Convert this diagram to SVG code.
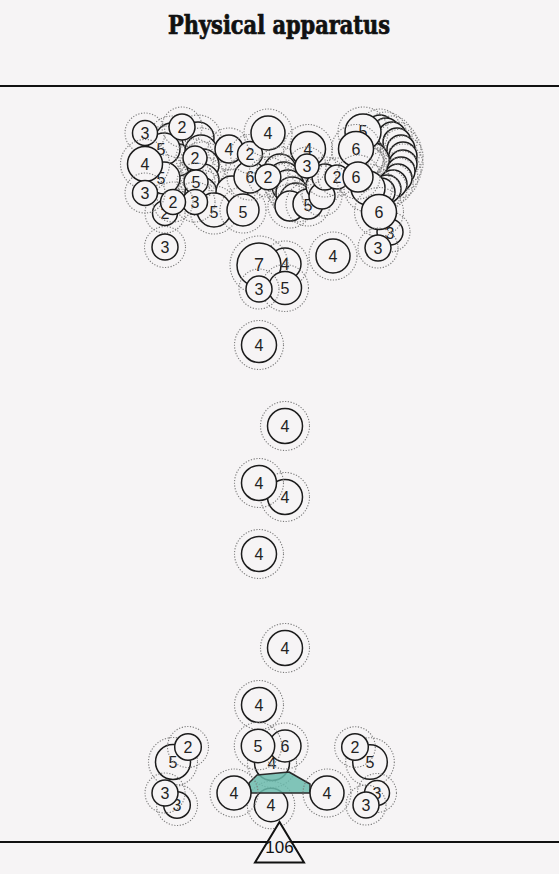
<svg xmlns="http://www.w3.org/2000/svg" width="559" height="874" viewBox="0 0 559 874">
<defs>
<style>
.ring{fill:none;stroke:#7a7a7a;stroke-width:1.1;stroke-dasharray:1.2 1.6}
.c{fill:#f6f4f5;stroke:#1c1c1c;stroke-width:1.5}
.t{font-family:"Liberation Sans",Arial,sans-serif;font-size:16px;fill:#222;text-anchor:middle;dominant-baseline:central}
.big{font-size:18px}
.rule{stroke:#111;stroke-width:2}
</style>
</defs>
<rect width="559" height="874" fill="#f6f4f5"/>
<text x="279" y="34" font-family="'DejaVu Serif Condensed','DejaVu Serif',serif" font-weight="bold" font-size="26" fill="#111" stroke="#111" stroke-width="0.7" text-anchor="middle" textLength="222" lengthAdjust="spacingAndGlyphs">Physical apparatus</text>
<line class="rule" x1="0" y1="86" x2="559" y2="86"/>
<line class="rule" x1="0" y1="842" x2="559" y2="842"/>

<g id="nodes">
<!-- top-left cluster -->
<g id="f1"><circle class="ring" cx="172" cy="140" r="24"/><circle class="c" cx="172" cy="140" r="17"/></g>
<g id="f2"><circle class="ring" cx="178" cy="160" r="23"/><circle class="c" cx="178" cy="160" r="16"/></g>
<g id="f3"><circle class="ring" cx="198" cy="138" r="23"/><circle class="c" cx="198" cy="138" r="16"/></g>
<g id="f4"><circle class="ring" cx="201" cy="151" r="23"/><circle class="c" cx="201" cy="151" r="16"/></g>
<g id="f5"><circle class="ring" cx="203" cy="165" r="23"/><circle class="c" cx="203" cy="165" r="16"/></g>
<g id="f6"><circle class="ring" cx="203" cy="180" r="23"/><circle class="c" cx="203" cy="180" r="16"/></g>
<g id="f7"><circle class="ring" cx="201" cy="193" r="23"/><circle class="c" cx="201" cy="193" r="16"/></g>
<g id="f8"><circle class="ring" cx="232" cy="192" r="23"/><circle class="c" cx="232" cy="192" r="16"/></g>
<g id="n1"><circle class="ring" cx="214" cy="210" r="24"/><circle class="c" cx="214" cy="210" r="17"/><text class="t" x="214" y="212">5</text></g>
<g id="n2"><circle class="ring" cx="243" cy="210" r="23"/><circle class="c" cx="243" cy="210" r="16"/><text class="t" x="243" y="212">5</text></g>
<g id="n3"><circle class="ring" cx="165" cy="213" r="20"/><circle class="c" cx="165" cy="213" r="12.5"/><text class="t" x="165" y="213">2</text></g>
<g id="n4"><circle class="ring" cx="164" cy="149" r="23"/><circle class="c" cx="164" cy="149" r="16"/><text class="t" x="161" y="149">5</text></g>
<g id="n5"><circle class="ring" cx="164" cy="178" r="23"/><circle class="c" cx="164" cy="178" r="16"/><text class="t" x="161" y="178">5</text></g>
<g id="n6"><circle class="ring" cx="195" cy="158" r="19"/><circle class="c" cx="195" cy="158" r="12"/><text class="t" x="195" y="158">2</text></g>
<g id="n7"><circle class="ring" cx="196" cy="182" r="19"/><circle class="c" cx="196" cy="182" r="12"/><text class="t" x="196" y="182">5</text></g>
<g id="n8"><circle class="ring" cx="195" cy="202" r="20"/><circle class="c" cx="195" cy="202" r="12.5"/><text class="t" x="195" y="202">3</text></g>
<g id="n9"><circle class="ring" cx="173" cy="202" r="20"/><circle class="c" cx="173" cy="202" r="12.5"/><text class="t" x="173" y="202">2</text></g>
<g id="n10"><circle class="ring" cx="145" cy="133" r="20"/><circle class="c" cx="145" cy="133" r="12.5"/><text class="t" x="145" y="133">3</text></g>
<g id="n11"><circle class="ring" cx="182" cy="127" r="20"/><circle class="c" cx="182" cy="127" r="13"/><text class="t" x="182" y="127">2</text></g>
<g id="n12"><circle class="ring" cx="145" cy="164" r="24.5"/><circle class="c" cx="145" cy="164" r="17.5"/><text class="t" x="145" y="164">4</text></g>
<g id="n13"><circle class="ring" cx="145" cy="193" r="20"/><circle class="c" cx="145" cy="193" r="12.5"/><text class="t" x="145" y="193">3</text></g>
<g id="n14"><circle class="ring" cx="229" cy="149" r="21"/><circle class="c" cx="229" cy="149" r="14"/><text class="t" x="229" y="149">4</text></g>
<g id="n15"><circle class="ring" cx="250" cy="177" r="23"/><circle class="c" cx="250" cy="177" r="16"/><text class="t" x="250" y="177">6</text></g>
<g id="n16"><circle class="ring" cx="250" cy="154" r="19.5"/><circle class="c" cx="250" cy="154" r="12.5"/><text class="t" x="250" y="154">2</text></g>
<g id="n17"><circle class="ring" cx="268" cy="133" r="24"/><circle class="c" cx="268" cy="133" r="17"/><text class="t" x="268" y="133">4</text></g>
<!-- middle fan -->
<g id="f9"><circle class="ring" cx="280" cy="170" r="23"/><circle class="c" cx="280" cy="170" r="16"/></g>
<g id="f10"><circle class="ring" cx="284" cy="178" r="23"/><circle class="c" cx="284" cy="178" r="16"/></g>
<g id="f11"><circle class="ring" cx="288" cy="186" r="23"/><circle class="c" cx="288" cy="186" r="16"/></g>
<g id="f12"><circle class="ring" cx="292" cy="193" r="23"/><circle class="c" cx="292" cy="193" r="16"/></g>
<g id="f13"><circle class="ring" cx="296" cy="199" r="23"/><circle class="c" cx="296" cy="199" r="16"/></g>
<g id="f14"><circle class="ring" cx="290" cy="206" r="22"/><circle class="c" cx="290" cy="206" r="15"/></g>
<g id="n18"><circle class="ring" cx="308" cy="204" r="22"/><circle class="c" cx="308" cy="204" r="15"/><text class="t" x="308" y="205">5</text></g>
<g id="n19"><circle class="ring" cx="268" cy="177" r="20"/><circle class="c" cx="268" cy="177" r="12.8"/><text class="t" x="268" y="177">2</text></g>
<g id="f15"><circle class="ring" cx="320" cy="186" r="21"/><circle class="c" cx="320" cy="186" r="14"/></g>
<g id="f16"><circle class="ring" cx="322" cy="196" r="20"/><circle class="c" cx="322" cy="196" r="13"/></g>
<g id="n20"><circle class="ring" cx="308" cy="149" r="24.5"/><circle class="c" cx="308" cy="149" r="17.5"/><text class="t" x="308" y="149">4</text></g>
<g id="f17"><circle class="ring" cx="325" cy="177" r="20"/><circle class="c" cx="325" cy="177" r="13"/></g>
<g id="n21"><circle class="ring" cx="307" cy="166" r="19"/><circle class="c" cx="307" cy="166" r="12"/><text class="t" x="307" y="166">3</text></g>
<g id="n22"><circle class="ring" cx="337" cy="177" r="19"/><circle class="c" cx="337" cy="177" r="12"/><text class="t" x="337" y="177">2</text></g>
<!-- right fan -->
<g id="f18"><circle class="ring" cx="380" cy="129" r="20"/><circle class="c" cx="380" cy="129" r="14"/></g>
<g id="f19"><circle class="ring" cx="386" cy="132" r="20"/><circle class="c" cx="386" cy="132" r="14"/></g>
<g id="f20"><circle class="ring" cx="392" cy="136" r="20"/><circle class="c" cx="392" cy="136" r="14"/></g>
<g id="f21"><circle class="ring" cx="397" cy="142" r="20"/><circle class="c" cx="397" cy="142" r="14"/></g>
<g id="f22"><circle class="ring" cx="401" cy="149" r="20"/><circle class="c" cx="401" cy="149" r="14"/></g>
<g id="f23"><circle class="ring" cx="403" cy="156" r="20"/><circle class="c" cx="403" cy="156" r="14"/></g>
<g id="f24"><circle class="ring" cx="403" cy="164" r="20"/><circle class="c" cx="403" cy="164" r="14"/></g>
<g id="f25"><circle class="ring" cx="401" cy="171" r="20"/><circle class="c" cx="401" cy="171" r="14"/></g>
<g id="f26"><circle class="ring" cx="398" cy="178" r="20"/><circle class="c" cx="398" cy="178" r="14"/></g>
<g id="f27"><circle class="ring" cx="393" cy="184" r="20"/><circle class="c" cx="393" cy="184" r="14"/></g>
<g id="f28"><circle class="ring" cx="387" cy="189" r="20"/><circle class="c" cx="387" cy="189" r="14"/></g>
<g id="f29"><circle class="ring" cx="381" cy="192" r="20"/><circle class="c" cx="381" cy="192" r="14"/></g>
<g id="f30"><circle class="ring" cx="368" cy="188" r="24"/><circle class="c" cx="368" cy="188" r="17"/></g>
<g id="n23"><circle class="ring" cx="363" cy="132" r="25"/><circle class="c" cx="363" cy="132" r="18"/><text class="t" x="363" y="131">5</text></g>
<g id="n24"><circle class="ring" cx="356" cy="149" r="24.5"/><circle class="c" cx="356" cy="149" r="17.5"/><text class="t" x="356" y="149">6</text></g>
<g id="n25"><circle class="ring" cx="358" cy="177" r="22"/><circle class="c" cx="358" cy="177" r="15"/><text class="t" x="356" y="177">6</text></g>
<g id="n26"><circle class="ring" cx="390" cy="232" r="20"/><circle class="c" cx="390" cy="232" r="13"/><text class="t" x="390" y="233">3</text></g>
<g id="n27"><circle class="ring" cx="379" cy="212" r="24.5"/><circle class="c" cx="379" cy="212" r="17.5"/><text class="t" x="379" y="212">6</text></g>
<g id="n28"><circle class="ring" cx="378" cy="248" r="20"/><circle class="c" cx="378" cy="248" r="13"/><text class="t" x="378" y="248">3</text></g>
<g id="n29"><circle class="ring" cx="165" cy="247" r="20.5"/><circle class="c" cx="165" cy="247" r="13"/><text class="t" x="165" y="247">3</text></g>
<!-- middle group -->
<g id="n30"><circle class="ring" cx="285" cy="264" r="23"/><circle class="c" cx="285" cy="264" r="16"/><text class="t" x="285" y="264">4</text></g>
<g id="n31"><circle class="ring" cx="259" cy="265" r="29"/><circle class="c" cx="259" cy="265" r="22"/><text class="t big" x="259" y="265">7</text></g>
<g id="n32"><circle class="ring" cx="285" cy="288" r="23.5"/><circle class="c" cx="285" cy="288" r="16.5"/><text class="t" x="285" y="288">5</text></g>
<g id="n33"><circle class="ring" cx="259" cy="289" r="20"/><circle class="c" cx="259" cy="289" r="13"/><text class="t" x="259" y="289">3</text></g>
<g id="n34"><circle class="ring" cx="333" cy="256" r="24"/><circle class="c" cx="333" cy="256" r="17"/><text class="t" x="333" y="256">4</text></g>
<!-- column -->
<g id="n35"><circle class="ring" cx="259" cy="345" r="24.5"/><circle class="c" cx="259" cy="345" r="17.5"/><text class="t" x="259" y="345">4</text></g>
<g id="n36"><circle class="ring" cx="285" cy="426" r="24.5"/><circle class="c" cx="285" cy="426" r="17.5"/><text class="t" x="285" y="426">4</text></g>
<g id="n37"><circle class="ring" cx="285" cy="497" r="24.5"/><circle class="c" cx="285" cy="497" r="17.5"/><text class="t" x="285" y="497">4</text></g>
<g id="n38"><circle class="ring" cx="259" cy="483" r="24.5"/><circle class="c" cx="259" cy="483" r="17.5"/><text class="t" x="259" y="483">4</text></g>
<g id="n39"><circle class="ring" cx="259" cy="554" r="24.5"/><circle class="c" cx="259" cy="554" r="17.5"/><text class="t" x="259" y="554">4</text></g>
<g id="n40"><circle class="ring" cx="285" cy="648" r="24.5"/><circle class="c" cx="285" cy="648" r="17.5"/><text class="t" x="285" y="648">4</text></g>
<g id="n41"><circle class="ring" cx="259" cy="705" r="24.5"/><circle class="c" cx="259" cy="705" r="17.5"/><text class="t" x="259" y="705">4</text></g>
<!-- bottom -->
<g id="n42"><circle class="ring" cx="173" cy="762" r="24.5"/><circle class="c" cx="173" cy="762" r="17.5"/><text class="t" x="173" y="762">5</text></g>
<g id="n43"><circle class="ring" cx="188" cy="747" r="20.5"/><circle class="c" cx="188" cy="747" r="13.3"/><text class="t" x="188" y="747">2</text></g>
<g id="n44"><circle class="ring" cx="177" cy="805" r="20.5"/><circle class="c" cx="177" cy="805" r="13.3"/><text class="t" x="177" y="805">3</text></g>
<g id="n45"><circle class="ring" cx="165" cy="793" r="20"/><circle class="c" cx="165" cy="793" r="13"/><text class="t" x="165" y="793">3</text></g>
<g id="n46"><circle class="ring" cx="272" cy="763" r="24.5"/><circle class="c" cx="272" cy="763" r="17.5"/><text class="t" x="272" y="763">4</text></g>
<g id="n47"><circle class="ring" cx="271" cy="805" r="23.7"/><circle class="c" cx="271" cy="805" r="16.7"/><text class="t" x="271" y="805">4</text></g>
<g id="n48"><circle class="ring" cx="285" cy="746" r="23"/><circle class="c" cx="285" cy="746" r="16"/><text class="t" x="285" y="746">6</text></g>
<g id="n49"><circle class="ring" cx="258" cy="746" r="23.7"/><circle class="c" cx="258" cy="746" r="16.7"/><text class="t" x="258" y="746">5</text></g>
<g id="n50"><circle class="ring" cx="370" cy="762" r="24.3"/><circle class="c" cx="370" cy="762" r="17.3"/><text class="t" x="370" y="762">5</text></g>
<g id="n51"><circle class="ring" cx="355" cy="747" r="20.3"/><circle class="c" cx="355" cy="747" r="13.3"/><text class="t" x="355" y="747">2</text></g>
<g id="n52"><circle class="ring" cx="377" cy="793" r="19.5"/><circle class="c" cx="377" cy="793" r="12.5"/><text class="t" x="377" y="793">3</text></g>
<g id="n53"><circle class="ring" cx="366" cy="805" r="20"/><circle class="c" cx="366" cy="805" r="13"/><text class="t" x="366" y="805">3</text></g>
</g>

<g id="connectors">
<polygon points="249,783 257,775 289,772 310,784 310,793 251,793" fill="#6bbbad" fill-opacity="0.85" stroke="#2a2a2a" stroke-width="1.5" stroke-linejoin="round"/>
</g>

<g id="nodes-front">
<g id="n54"><circle class="ring" cx="234" cy="793" r="24"/><circle class="c" cx="234" cy="793" r="17"/><text class="t" x="234" y="793">4</text></g>
<g id="n55"><circle class="ring" cx="327" cy="793" r="24"/><circle class="c" cx="327" cy="793" r="17"/><text class="t" x="327" y="793">4</text></g>
</g>

<g id="root">
<polygon points="279.5,822 255,862.5 304,862.5" fill="#f6f4f5" stroke="#111" stroke-width="2" stroke-linejoin="miter"/>
<text x="279.5" y="853" font-family="'Liberation Sans',Arial,sans-serif" font-size="17" fill="#111" text-anchor="middle">106</text>
</g>
</svg>
